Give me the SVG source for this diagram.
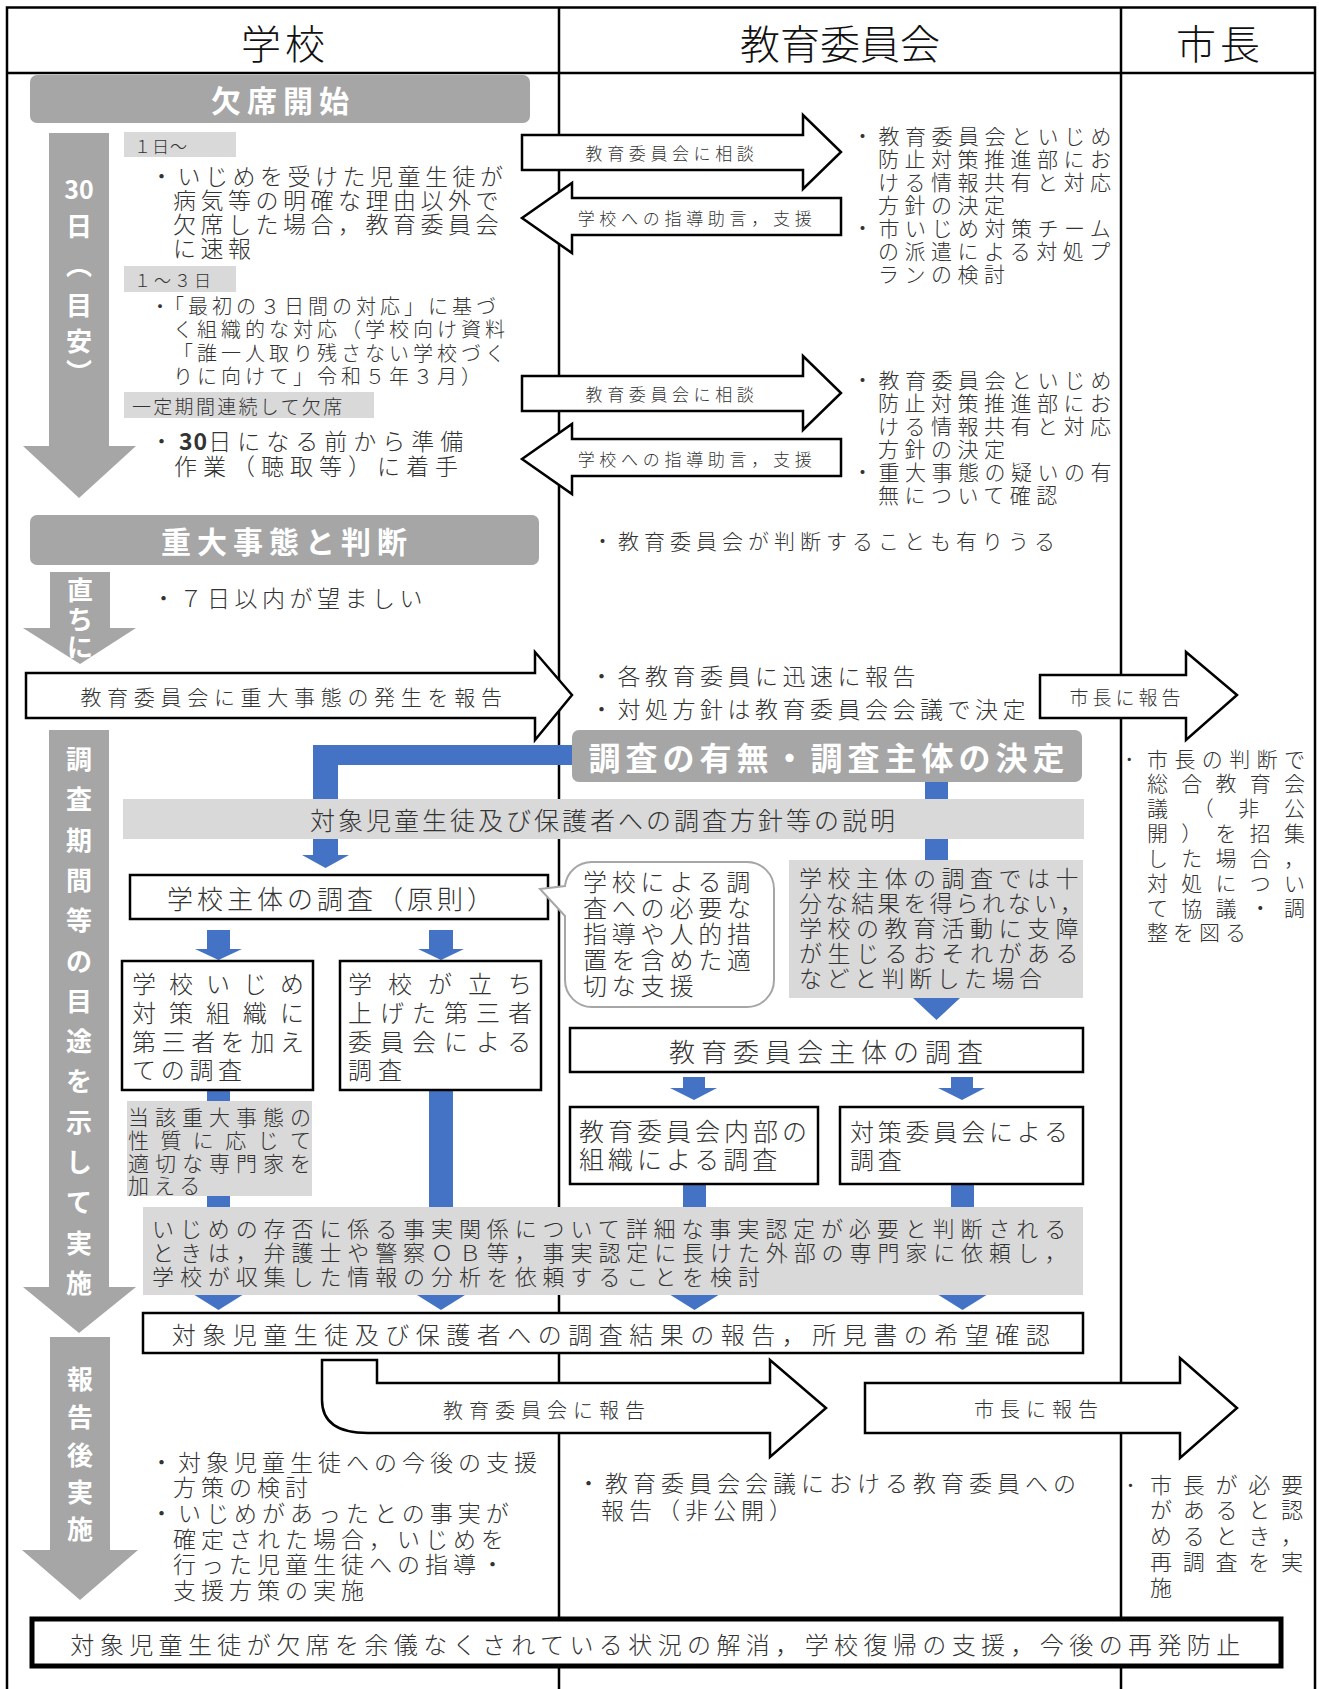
<svg xmlns="http://www.w3.org/2000/svg" width="1319" height="1689" viewBox="0 0 1319 1689">
<style>
.f{font-family:"Noto Sans CJK JP","Noto Sans CJK SC",sans-serif;dominant-baseline:central}
.t{fill:#333;font-weight:300}
.w{fill:#fff;font-weight:700}
.m{text-anchor:middle}
.bx{fill:#fff;stroke:#000;stroke-width:2.5}
.lg{fill:#d9d9d9}
.dg{fill:#a6a6a6}
.bl{fill:#4472c4}
.ar{fill:#fff;stroke:#000;stroke-width:2.5}
.ln{stroke:#000;stroke-width:2.5;fill:none}
</style>
<rect width="1319" height="1689" fill="#fff"/>
<g id="frame">
<rect class="ln" x="7" y="7.5" width="1308" height="1720"/>
<line class="ln" x1="7" y1="73" x2="1315" y2="73"/>
<line class="ln" x1="559" y1="7" x2="559" y2="1689"/>
<line class="ln" x1="1121" y1="7" x2="1121" y2="1689"/>
<text class="f t m" x="285" y="42" font-size="40" letter-spacing="4" style="fill:#111">学校</text>
<text class="f t m" x="840" y="42" font-size="40" style="fill:#111">教育委員会</text>
<text class="f t m" x="1220" y="42" font-size="40" letter-spacing="4" style="fill:#111">市長</text>
</g>
<g id="connectors">
<polygon class="bl" points="575,745 313,745 313,855 302,855 325.5,868 349,855 338,855 338,765 575,765"/>
<rect class="bl" x="925" y="778" width="23" height="84"/>
<polygon class="bl" points="207,930 230,930 230,949 242,949 218.5,960 195,949 207,949"/>
<polygon class="bl" points="429,930 453,930 453,949 464,949 441,960 418,949 429,949"/>
<rect class="bl" x="207" y="1088" width="23" height="121"/>
<rect class="bl" x="429" y="1088" width="24" height="121"/>
<polygon class="bl" points="913,998 960,998 936.5,1020"/>
<polygon class="bl" points="683,1077 705,1077 705,1088 717,1088 694,1100 670,1088 683,1088"/>
<polygon class="bl" points="951,1077 973,1077 973,1088 985,1088 962,1100 938,1088 951,1088"/>
<rect class="bl" x="683" y="1182" width="23" height="27"/>
<rect class="bl" x="951" y="1182" width="23" height="27"/>
<polygon class="bl" points="194.5,1295 242.5,1295 218.5,1310"/>
<polygon class="bl" points="417,1295 465,1295 441,1310"/>
<polygon class="bl" points="670.5,1295 718.5,1295 694.5,1310"/>
<polygon class="bl" points="938.5,1295 986.5,1295 962.5,1310"/>
<g id="arrow-soudan1">
<path class="ar" d="M522,135 H803 V115 L841,152 L803,189 V170 H522 Z"/>
<text class="f t m" x="672" y="152" font-size="17" letter-spacing="4.6">教育委員会に相談</text>
</g>
<g id="arrow-shido1">
<path class="ar" d="M522,218 L572,183 V198 H841 V235 H572 V253 Z"/>
<text class="f t m" x="697" y="217" font-size="17" letter-spacing="4.7">学校への指導助言，支援</text>
</g>
<g id="arrow-soudan2">
<path class="ar" d="M522,376 H803 V356 L841,393 L803,430 V411 H522 Z"/>
<text class="f t m" x="672" y="393" font-size="17" letter-spacing="4.6">教育委員会に相談</text>
</g>
<g id="arrow-shido2">
<path class="ar" d="M522,459 L572,424 V439 H841 V476 H572 V494 Z"/>
<text class="f t m" x="697" y="458" font-size="17" letter-spacing="4.7">学校への指導助言，支援</text>
</g>
<g id="arrow-hassei">
<path class="ar" d="M26,673 H535 V652 L572,695 L535,740 V718 H26 Z"/>
<text class="f t m" x="294" y="696" font-size="21" letter-spacing="5.7">教育委員会に重大事態の発生を報告</text>
</g>
<g id="arrow-shicho1">
<path class="ar" d="M1040,675 H1186 V652 L1237,695 L1186,740 V718 H1040 Z"/>
<text class="f t m" x="1127" y="696" font-size="19" letter-spacing="4">市長に報告</text>
</g>
<g id="arrow-iinkai-houkoku">
<path class="ar" d="M322,1360 H377 V1383 H770 V1360 L826,1408 L770,1457 V1433 H368 Q322,1433 322,1400 Z"/>
<text class="f t m" x="547" y="1409" font-size="20" letter-spacing="6">教育委員会に報告</text>
</g>
<g id="arrow-shicho2">
<path class="ar" d="M865,1383 H1180 V1358 L1237,1408 L1180,1458 V1433 H865 Z"/>
<text class="f t m" x="1039" y="1408" font-size="20" letter-spacing="6">市長に報告</text>
</g>
</g>

<g id="kesseki-kaishi">
<rect class="dg" x="30" y="75" width="500" height="48" rx="7"/>
<text class="f w m" x="283" y="99" font-size="30" letter-spacing="6">欠席開始</text>
</g>
<g id="arrow-30days">
<polygon class="dg" points="49,133 109,133 109,446 136,446 79,498 23,446 49,446"/>
<text class="f w m" font-size="26"><tspan x="79" y="188" font-size="25">30</tspan><tspan x="79" y="224">日</tspan><tspan x="79" y="263">︵</tspan><tspan x="79" y="303">目</tspan><tspan x="79" y="339">安</tspan><tspan x="79" y="370">︶</tspan></text>
</g>
<g id="day1">
<rect class="lg" x="124" y="132" width="112" height="25"/>
<text class="f t" x="134" y="145" font-size="17" letter-spacing="1">１日～</text>
<text class="f t" font-size="23" letter-spacing="4.5"><tspan x="150" y="175">・いじめを受けた児童生徒が</tspan><tspan x="173" y="199">病気等の明確な理由以外で</tspan><tspan x="173" y="223">欠席した場合，教育委員会</tspan><tspan x="173" y="247">に速報</tspan></text>
</g>
<g id="day1-3">
<rect class="lg" x="124" y="266" width="112" height="26"/>
<text class="f t" x="134" y="279" font-size="17" letter-spacing="3">１～３日</text>
<text class="f t" font-size="20" letter-spacing="4"><tspan x="150" y="305">・「最初の３日間の対応」に基づ</tspan><tspan x="173" y="328">く組織的な対応（学校向け資料</tspan><tspan x="173" y="352">「誰一人取り残さない学校づく</tspan><tspan x="173" y="375">りに向けて」令和５年３月）</tspan></text>
</g>
<g id="renzoku">
<rect class="lg" x="124" y="392" width="250" height="26"/>
<text class="f t" x="132" y="405" font-size="19" letter-spacing="2.3">一定期間連続して欠席</text>
<text class="f t" font-size="23" letter-spacing="6"><tspan x="150" y="440">・<tspan font-weight="700" letter-spacing="1">30</tspan>日になる前から準備</tspan><tspan x="174" y="465">作業（聴取等）に着手</tspan></text>
</g>
<g id="kyoi-1">
<text class="f t" font-size="21" letter-spacing="5.5"><tspan x="852" y="135">・教育委員会といじめ</tspan><tspan x="878" y="158">防止対策推進部にお</tspan><tspan x="878" y="181">ける情報共有と対応</tspan><tspan x="878" y="204">方針の決定</tspan><tspan x="852" y="227">・市いじめ対策チーム</tspan><tspan x="878" y="250">の派遣による対処プ</tspan><tspan x="878" y="273">ランの検討</tspan></text>
</g>
<g id="kyoi-2">
<text class="f t" font-size="21" letter-spacing="5.5"><tspan x="852" y="379">・教育委員会といじめ</tspan><tspan x="878" y="402">防止対策推進部にお</tspan><tspan x="878" y="425">ける情報共有と対応</tspan><tspan x="878" y="448">方針の決定</tspan><tspan x="852" y="471">・重大事態の疑いの有</tspan><tspan x="878" y="494">無について確認</tspan></text>
</g>
<g id="juudai">
<rect class="dg" x="30" y="515" width="509" height="50" rx="7"/>
<text class="f w m" x="287" y="540" font-size="30" letter-spacing="6">重大事態と判断</text>
</g>
<g id="kyoi-handan">
<text class="f t" x="592" y="540" font-size="21" letter-spacing="5">・教育委員会が判断することも有りうる</text>
</g>
<g id="arrow-tadachini">
<polygon class="dg" points="50,572 110,572 110,628 136,628 80,664 23,628 50,628"/>
<text class="f w m" font-size="26"><tspan x="80" y="588">直</tspan><tspan x="80" y="617">ち</tspan><tspan x="80" y="645">に</tspan></text>
</g>
<g id="nanoka">
<text class="f t" x="152" y="597" font-size="23" letter-spacing="4.5">・７日以内が望ましい</text>
</g>
<g id="kyoi-houkoku">
<text class="f t" font-size="23" letter-spacing="4.5"><tspan x="590" y="675">・各教育委員に迅速に報告</tspan><tspan x="590" y="708">・対処方針は教育委員会会議で決定</tspan></text>
</g>
<g id="shicho-sougou">
<text class="f t" font-size="21"><tspan x="1124" y="758">･</tspan><tspan x="1147 1174.4 1201.8 1229.2 1256.6 1284" y="758">市長の判断で</tspan><tspan x="1147 1181.25 1215.5 1249.75 1284" y="782">総合教育会</tspan><tspan x="1147 1192.7 1238.3 1284" y="807">議（非公</tspan><tspan x="1147 1181.25 1215.5 1249.75 1284" y="832">開）を招集</tspan><tspan x="1147 1181.25 1215.5 1249.75 1284" y="857">した場合，</tspan><tspan x="1147 1181.25 1215.5 1249.75 1284" y="882">対処につい</tspan><tspan x="1147 1181.25 1215.5 1249.75 1284" y="907">て協議・調</tspan><tspan x="1147" y="931" letter-spacing="5">整を図る</tspan></text>
</g>
<g id="chousa-kettei">
<rect class="dg" x="572" y="730" width="510" height="52" rx="7"/>
<text class="f w m" x="829" y="756" font-size="32" letter-spacing="5">調査の有無・調査主体の決定</text>
</g>
<g id="arrow-chousa-kikan">
<polygon class="dg" points="49,730 109,730 109,1287 136,1287 79,1333 23,1287 49,1287"/>
<text class="f w m" font-size="26"><tspan x="79" y="757">調</tspan><tspan x="79" y="797">査</tspan><tspan x="79" y="838">期</tspan><tspan x="79" y="878">間</tspan><tspan x="79" y="918">等</tspan><tspan x="79" y="959">の</tspan><tspan x="79" y="999">目</tspan><tspan x="79" y="1039">途</tspan><tspan x="79" y="1079">を</tspan><tspan x="79" y="1120">示</tspan><tspan x="79" y="1160">し</tspan><tspan x="79" y="1200">て</tspan><tspan x="79" y="1241">実</tspan><tspan x="79" y="1281">施</tspan></text>
</g>
<g id="setsumei">
<rect class="lg" x="123" y="799" width="961" height="40"/>
<text class="f t m" x="604" y="819" font-size="25" letter-spacing="3">対象児童生徒及び保護者への調査方針等の説明</text>
</g>
<g id="gakkou-shutai">
<rect class="bx" x="130" y="875" width="418" height="44"/>
<text class="f t m" x="332" y="897" font-size="26" letter-spacing="4">学校主体の調査（原則）</text>
</g>
<g id="shien-bubble">
<path d="M565,916 L540,889 L565,886 A27,27 0 0 1 592,862 H747 A27,27 0 0 1 774,889 V980 A27,27 0 0 1 747,1007 H592 A27,27 0 0 1 565,980 Z" fill="#fff" stroke="#a6a6a6" stroke-width="2"/>
<text class="f t" font-size="24" letter-spacing="4.8"><tspan x="583" y="880">学校による調</tspan><tspan x="583" y="906">査への必要な</tspan><tspan x="583" y="932">指導や人的措</tspan><tspan x="583" y="958">置を含めた適</tspan><tspan x="583" y="984">切な支援</tspan></text>
</g>
<g id="fujuubun">
<rect class="lg" x="789" y="860" width="294" height="138"/>
<text class="f t" font-size="23"><tspan x="799" y="877" letter-spacing="5.5">学校主体の調査では十</tspan><tspan x="799" y="902" letter-spacing="3.1">分な結果を得られない，</tspan><tspan x="799" y="927" letter-spacing="5.5">学校の教育活動に支障</tspan><tspan x="799" y="952" letter-spacing="5.5">が生じるおそれがある</tspan><tspan x="799" y="977" letter-spacing="4.5">などと判断した場合</tspan></text>
</g>
<g id="soshiki-daisansha">
<rect class="bx" x="122" y="961" width="191" height="129"/>
<text class="f t" font-size="24"><tspan x="132 169 206 243 280" y="982">学校いじめ</tspan><tspan x="132 169 206 243 280" y="1011">対策組織に</tspan><tspan x="132" y="1040" letter-spacing="5.6">第三者を加え</tspan><tspan x="132" y="1068" letter-spacing="4.7">ての調査</tspan></text>
</g>
<g id="daisansha-iinkai">
<rect class="bx" x="340" y="961" width="201" height="129"/>
<text class="f t" font-size="24"><tspan x="348 388 428 468 508" y="982">学校が立ち</tspan><tspan x="348" y="1011" letter-spacing="8">上げた第三者</tspan><tspan x="348" y="1040" letter-spacing="8">委員会による</tspan><tspan x="348" y="1068" letter-spacing="6">調査</tspan></text>
</g>
<g id="senmonka">
<rect class="lg" x="127" y="1101" width="185" height="95"/>
<text class="f t" font-size="21"><tspan x="128" y="1116" letter-spacing="6">当該重大事態の</tspan><tspan x="128" y="1139" letter-spacing="11.4">性質に応じて</tspan><tspan x="128" y="1162" letter-spacing="6">適切な専門家を</tspan><tspan x="128" y="1184" letter-spacing="5">加える</tspan></text>
</g>
<g id="iinkai-shutai">
<rect class="bx" x="570" y="1028" width="513" height="44"/>
<text class="f t m" x="829" y="1050" font-size="26" letter-spacing="6">教育委員会主体の調査</text>
</g>
<g id="naibu">
<rect class="bx" x="570" y="1107" width="248" height="77"/>
<text class="f t" font-size="25" letter-spacing="4"><tspan x="579" y="1130">教育委員会内部の</tspan><tspan x="579" y="1158">組織による調査</tspan></text>
</g>
<g id="taisaku-iinkai">
<rect class="bx" x="840" y="1107" width="243" height="77"/>
<text class="f t" font-size="24" letter-spacing="3.8"><tspan x="850" y="1130">対策委員会による</tspan><tspan x="850" y="1158">調査</tspan></text>
</g>
<g id="jijitsu-nintei">
<rect class="lg" x="143" y="1207" width="940" height="88"/>
<text class="f t" font-size="22" letter-spacing="5.9"><tspan x="152" y="1227">いじめの存否に係る事実関係について詳細な事実認定が必要と判断される</tspan><tspan x="152" y="1251">ときは，弁護士や警察ＯＢ等，事実認定に長けた外部の専門家に依頼し，</tspan><tspan x="152" y="1275">学校が収集した情報の分析を依頼することを検討</tspan></text>
</g>
<g id="kekka-houkoku">
<rect class="bx" x="143" y="1313" width="940" height="40"/>
<text class="f t m" x="614" y="1333" font-size="24" letter-spacing="6.5">対象児童生徒及び保護者への調査結果の報告，所見書の希望確認</text>
</g>
<g id="arrow-houkokugo">
<polygon class="dg" points="50,1337 110,1337 110,1550 138,1550 80,1600 22,1550 50,1550"/>
<text class="f w m" font-size="26"><tspan x="80" y="1377">報</tspan><tspan x="80" y="1415">告</tspan><tspan x="80" y="1453">後</tspan><tspan x="80" y="1490">実</tspan><tspan x="80" y="1527">施</tspan></text>
</g>
<g id="gakkou-shien">
<text class="f t" font-size="23" letter-spacing="5"><tspan x="150" y="1461">・対象児童生徒への今後の支援</tspan><tspan x="173" y="1486">方策の検討</tspan><tspan x="150" y="1512">・いじめがあったとの事実が</tspan><tspan x="173" y="1538">確定された場合，いじめを</tspan><tspan x="173" y="1563">行った児童生徒への指導・</tspan><tspan x="173" y="1589">支援方策の実施</tspan></text>
</g>
<g id="kyoi-kaigi">
<text class="f t" font-size="23" letter-spacing="5"><tspan x="577" y="1482">・教育委員会会議における教育委員への</tspan><tspan x="601" y="1509">報告（非公開）</tspan></text>
</g>
<g id="saichousa">
<text class="f t" font-size="22"><tspan x="1125" y="1483">･</tspan><tspan x="1150 1182.75 1215.5 1248.25 1281" y="1483">市長が必要</tspan><tspan x="1150 1182.75 1215.5 1248.25 1281" y="1508">があると認</tspan><tspan x="1150 1182.75 1215.5 1248.25 1281" y="1534">めるとき，</tspan><tspan x="1150 1182.75 1215.5 1248.25 1281" y="1560">再調査を実</tspan><tspan x="1150" y="1586">施</tspan></text>
</g>
<g id="goal">
<rect x="32" y="1619" width="1249" height="47" fill="#fff" stroke="#000" stroke-width="5"/>
<text class="f t m" x="658" y="1643" font-size="24" letter-spacing="5.4">対象児童生徒が欠席を余儀なくされている状況の解消，学校復帰の支援，今後の再発防止</text>
</g>
</svg>
